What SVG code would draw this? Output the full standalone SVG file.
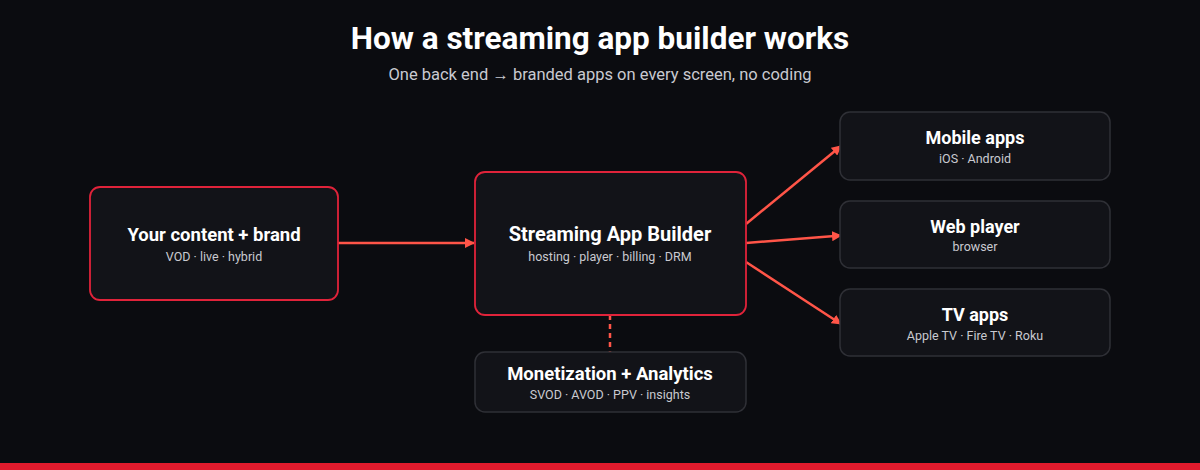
<svg xmlns="http://www.w3.org/2000/svg" width="1200" height="470" viewBox="0 0 1200 470">
<defs>
<style>
.title{font-family:Roboto,"Liberation Sans",Arial,sans-serif;font-weight:bold;fill:#ffffff;text-anchor:middle}
.sub{font-family:Roboto,"Liberation Sans",Arial,sans-serif;fill:#c9cad0;text-anchor:middle}
.box{fill:#121318;stroke:#2f3036;stroke-width:1.5}
.hot{fill:#121318;stroke:#e0233a;stroke-width:1.8}
.conn{stroke:#ff5548;stroke-width:2.5;fill:none}
</style>
<marker id="ah" markerWidth="10" markerHeight="10" refX="9" refY="5" orient="auto" markerUnits="userSpaceOnUse">
<path d="M0,0 L10,5 L0,10 Z" fill="#ff5548"/>
</marker>
</defs>
<rect width="1200" height="470" fill="#0b0c10"/>
<text x="600" y="49" class="title" font-size="31.5">How a streaming app builder works</text>
<text x="600" y="80" class="sub" font-size="16.5">One back end → branded apps on every screen, no coding</text>
<g id="connectors">
<line x1="338" y1="243" x2="474" y2="243" class="conn" stroke-width="3" marker-end="url(#ah)"/>
<line x1="746" y1="224" x2="841" y2="146" class="conn" marker-end="url(#ah)"/>
<line x1="746" y1="243" x2="841" y2="235.5" class="conn" marker-end="url(#ah)"/>
<line x1="746" y1="262" x2="841" y2="324" class="conn" marker-end="url(#ah)"/>
<line x1="610" y1="315" x2="610" y2="352" class="conn" stroke-dasharray="5,4"/>
</g>
<g id="content">
<rect x="90" y="187" width="248" height="113" rx="10" class="hot"/>
<text x="214" y="241" class="title" font-size="18.5">Your content + brand</text>
<text x="214" y="261" class="sub" font-size="12.5">VOD · live · hybrid</text>
</g>
<g id="builder">
<rect x="475" y="172" width="271" height="143" rx="10" class="hot"/>
<text x="610" y="241" class="title" font-size="20">Streaming App Builder</text>
<text x="610" y="261" class="sub" font-size="12.5">hosting · player · billing · DRM</text>
</g>
<g id="monetization">
<rect x="475" y="352" width="271" height="60" rx="10" class="box"/>
<text x="610" y="380" class="title" font-size="18.5">Monetization + Analytics</text>
<text x="610" y="399" class="sub" font-size="12.5">SVOD · AVOD · PPV · insights</text>
</g>
<g id="mobile">
<rect x="840" y="112" width="270" height="68" rx="10" class="box"/>
<text x="975" y="144" class="title" font-size="18">Mobile apps</text>
<text x="975" y="163" class="sub" font-size="12.5">iOS · Android</text>
</g>
<g id="web">
<rect x="840" y="201" width="270" height="67" rx="10" class="box"/>
<text x="975" y="233" class="title" font-size="18">Web player</text>
<text x="975" y="251" class="sub" font-size="12.5">browser</text>
</g>
<g id="tv">
<rect x="840" y="289" width="270" height="67" rx="10" class="box"/>
<text x="975" y="321" class="title" font-size="18">TV apps</text>
<text x="975" y="340" class="sub" font-size="12.5">Apple TV · Fire TV · Roku</text>
</g>
<rect x="0" y="463" width="1200" height="7" fill="#e21b2d"/>
</svg>
